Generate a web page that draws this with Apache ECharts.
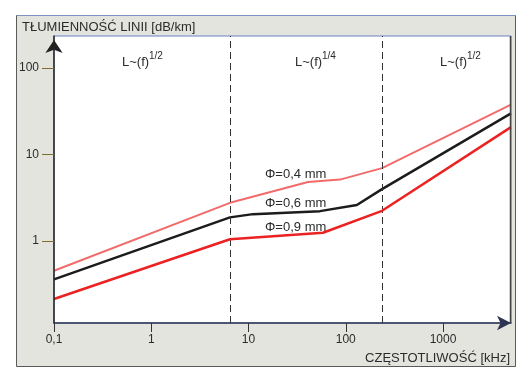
<!DOCTYPE html>
<html>
<head>
<meta charset="utf-8">
<script src="https://cdn.jsdelivr.net/npm/echarts@6/dist/echarts.min.js"></script>
<style>html,body{margin:0;padding:0;background:#fff;}#c{width:530px;height:374px;}</style>
</head>
<body>
<div id="c"></div>
<script>
// Frequency (kHz) and attenuation (dB/km) breakpoints per conductor diameter
const freqPink  = [0.1, 6.45, 40.9, 87.2, 236, 5000];
const attPink   = [0.454, 2.77, 4.81, 5.14, 6.98, 37.8];
const freqBlack = [0.1, 6.45, 11.1, 54.3, 130, 236, 5000];
const attBlack  = [0.361, 1.88, 2.05, 2.22, 2.61, 3.99, 29.9];
const freqRed   = [0.1, 6.45, 58.3, 236, 5000];
const attRed    = [0.214, 1.05, 1.25, 2.24, 20.8];
const regionBounds = [6.45, 236];
const xTicks = [0.1, 1, 10, 100, 1000];
const yTicks = [1, 10, 100];
const seriesNames = ['Φ=0,4 mm', 'Φ=0,6 mm', 'Φ=0,9 mm'];

const FONT = "'Liberation Sans', Arial, sans-serif";
const TXT = '#2b2b2b';
function pairs(xs, ys){ return xs.map((x,i)=>[x, ys[i]]); }
function fmt(v){ return String(Number(Number(v).toPrecision(6))).replace('.', ','); }

const chart = echarts.init(document.getElementById('c'), null, {renderer:'canvas'});
chart.setOption({
  animation:false,
  backgroundColor:'#ffffff',
  grid:{left:54, top:36, right:19, bottom:51, show:true, backgroundColor:'#ffffff', borderColor:'#6a83c4', borderWidth:1},
  xAxis:{
    type:'log', min:0.1, max:5000, logBase:10, z:20,
    axisLine:{show:true, lineStyle:{color:'#2e3552', width:1.5}, symbol:['none','arrow'], symbolSize:[11,14], symbolOffset:[0,0]},
    axisTick:{show:true, length:9, inside:false, lineStyle:{color:'#333', width:1}, customValues:xTicks},
    axisLabel:{customValues:xTicks, formatter:fmt, color:TXT, fontSize:12, fontFamily:FONT, margin:11},
    splitLine:{show:false}
  },
  yAxis:{
    type:'log', min:0.113, max:235, logBase:10, z:20,
    axisLine:{show:true, lineStyle:{color:'#222', width:1.5}, symbol:['none','arrow'], symbolSize:[13,13], symbolOffset:[0,-4]},
    axisTick:{show:true, length:12, inside:false, lineStyle:{color:'#7a6d2e', width:1}, customValues:yTicks},
    axisLabel:{customValues:yTicks, formatter:fmt, color:TXT, fontSize:12, fontFamily:FONT, margin:15},
    splitLine:{show:false}
  },
  series:[
    {name:seriesNames[0], type:'line', data:pairs(freqPink, attPink), showSymbol:false, symbol:'none',
     lineStyle:{color:'#f26b6b', width:2}, z:3,
     markLine:{silent:true, symbol:'none', label:{show:false},
       lineStyle:{color:'#333', width:1, type:[7,4]},
       data: regionBounds.map(v=>({xAxis:v}))}},
    {name:seriesNames[1], type:'line', data:pairs(freqBlack, attBlack), showSymbol:false, symbol:'none',
     lineStyle:{color:'#1c1c1c', width:2.5}, z:4},
    {name:seriesNames[2], type:'line', data:pairs(freqRed, attRed), showSymbol:false, symbol:'none',
     lineStyle:{color:'#ec2222', width:2.5}, z:5}
  ],
  graphic:[
    {type:'rect', z:-10, shape:{x:16.5, y:15.5, width:499, height:351}, style:{fill:'#e4e4df', stroke:'#5a5a5a', lineWidth:1}},
    {type:'line', z:-9, shape:{x1:17, y1:15.5, x2:516, y2:15.5}, style:{stroke:'#7f93c4', lineWidth:1}},
    {type:'line', z:50, shape:{x1:510.5, y1:36, x2:510.5, y2:323}, style:{stroke:'#444', lineWidth:1.5}},
    {type:'text', z:60, x:22, y:27, style:{text:'TŁUMIENNOŚĆ LINII [dB/km]', fill:TXT, font:'13px '+FONT, textVerticalAlign:'middle'}},
    {type:'text', z:60, x:510, y:358, style:{text:'CZĘSTOTLIWOŚĆ [kHz]', fill:TXT, font:'13px '+FONT, textAlign:'right', textVerticalAlign:'middle'}},
    {type:'text', z:60, x:122, y:62, style:{text:'L~(f)', fill:TXT, font:'13px '+FONT, textVerticalAlign:'middle'}},
    {type:'text', z:60, x:149, y:56, style:{text:'1/2', fill:TXT, font:'10px '+FONT, textVerticalAlign:'middle'}},
    {type:'text', z:60, x:295, y:62, style:{text:'L~(f)', fill:TXT, font:'13px '+FONT, textVerticalAlign:'middle'}},
    {type:'text', z:60, x:322, y:56, style:{text:'1/4', fill:TXT, font:'10px '+FONT, textVerticalAlign:'middle'}},
    {type:'text', z:60, x:440, y:62, style:{text:'L~(f)', fill:TXT, font:'13px '+FONT, textVerticalAlign:'middle'}},
    {type:'text', z:60, x:467, y:56, style:{text:'1/2', fill:TXT, font:'10px '+FONT, textVerticalAlign:'middle'}},
    {type:'text', z:60, x:265, y:174, style:{text:seriesNames[0], fill:TXT, font:'13px '+FONT, textVerticalAlign:'middle'}},
    {type:'text', z:60, x:265, y:203.5, style:{text:seriesNames[1], fill:TXT, font:'13px '+FONT, textVerticalAlign:'middle'}},
    {type:'text', z:60, x:265, y:227, style:{text:seriesNames[2], fill:TXT, font:'13px '+FONT, textVerticalAlign:'middle'}}
  ]
});
</script>
</body>
</html>
